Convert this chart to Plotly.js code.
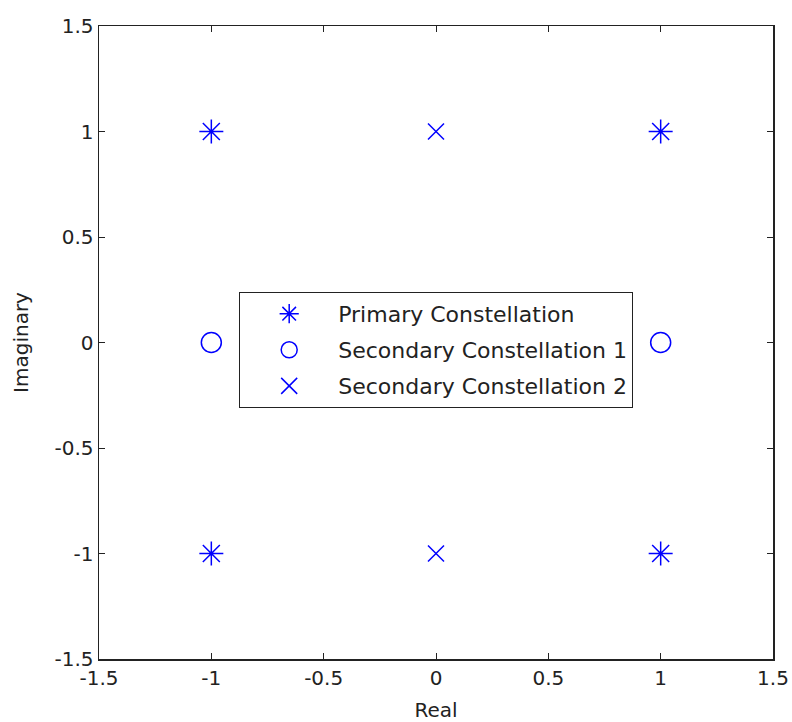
<!DOCTYPE html>
<html>
<head>
<meta charset="utf-8">
<script src="https://cdn.plot.ly/plotly-3.0.1.min.js"></script>
<style>html,body{margin:0;padding:0;background:#fff;}#chart{width:792px;height:722px;}</style>
</head>
<body>
<div id="chart"></div>
<script>
const primaryReal = [-1, 1, -1, 1];
const primaryImag = [1, 1, -1, -1];
const secondary1Real = [-1, 1];
const secondary1Imag = [0, 0];
const secondary2Real = [0, 0];
const secondary2Imag = [1, -1];
const tickVals = [-1.5, -1, -0.5, 0, 0.5, 1, 1.5];
const tickText = ['-1.5', '-1', '-0.5', '0', '0.5', '1', '1.5'];
const names = ['Primary Constellation', 'Secondary Constellation 1', 'Secondary Constellation 2'];

const blue = 'rgb(0,0,255)';
const FONT = 'DejaVu Sans, Liberation Sans, Arial, sans-serif';
const traces = [
  {x: primaryReal, y: primaryImag, name: names[0], legendgroup: 'a', mode: 'markers', type: 'scatter',
   marker: {symbol: 'asterisk-open', size: 20, color: blue, line: {color: blue, width: 1.5}}},
  {x: secondary1Real, y: secondary1Imag, name: names[1], legendgroup: 'b', mode: 'markers', type: 'scatter',
   marker: {symbol: 'circle-open', size: 20, color: blue, line: {color: blue, width: 1.5}}},
  {x: secondary2Real, y: secondary2Imag, name: names[2], legendgroup: 'c', mode: 'markers', type: 'scatter',
   marker: {symbol: 'x-thin-open', size: 16, color: blue, line: {color: blue, width: 1.5}}}
];

const axisCommon = {
  range: [-1.5, 1.5], tickvals: tickVals, ticktext: tickText,
  ticks: 'inside', ticklen: 6, tickwidth: 1, tickcolor: '#222',
  showline: true, linecolor: '#222', linewidth: 1.5, mirror: 'ticks',
  showgrid: false, zeroline: false,
  tickfont: {family: FONT, size: 20, color: '#222'}
};

const layout = {
  width: 792, height: 722,
  margin: {l: 99, r: 19, t: 26, b: 63},
  paper_bgcolor: '#fff', plot_bgcolor: '#fff',
  font: {family: FONT, size: 20, color: '#222'},
  xaxis: Object.assign({}, axisCommon, {title: {text: 'Real', standoff: 17, font: {size: 20}}}),
  yaxis: Object.assign({}, axisCommon, {title: {text: 'Imaginary', standoff: 20, font: {size: 20}}}),
  showlegend: true,
  legend: {x: 0.208, y: 0.58, xanchor: 'left', yanchor: 'top',
           traceorder: 'grouped', tracegroupgap: 4.5, itemwidth: 88,
           bgcolor: '#fff', bordercolor: '#222', borderwidth: 1,
           font: {size: 22, color: '#222'}}
};

Plotly.newPlot('chart', traces, layout, {displayModeBar: false, staticPlot: true});
</script>
</body>
</html>
